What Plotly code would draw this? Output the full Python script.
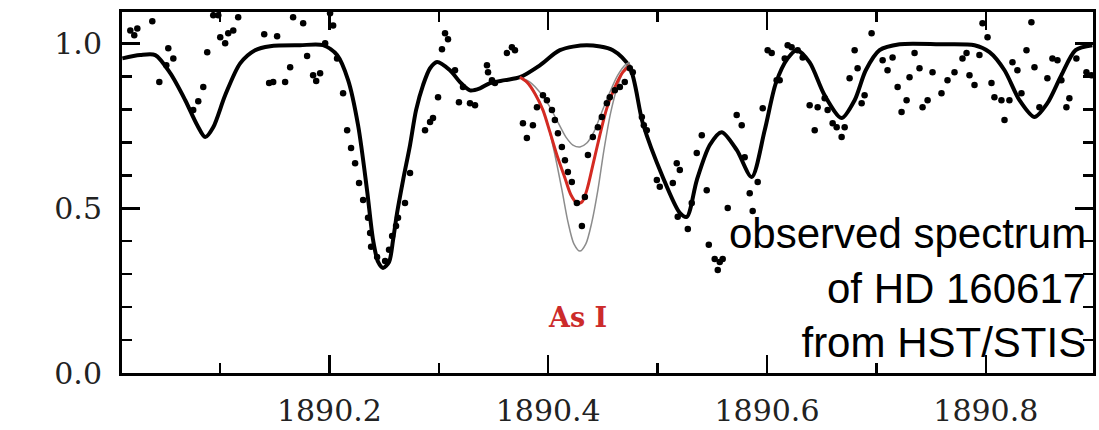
import plotly.graph_objects as go

# ---------------- data ----------------
# observed spectrum (wavelength in Angstrom, normalized flux)
obs_wave = [
    1890.0180, 1890.0216, 1890.0244, 1890.0381, 1890.0445, 1890.0509, 1890.0527, 1890.0573,
    1890.0755, 1890.0801, 1890.0847, 1890.0883, 1890.0938, 1890.0984, 1890.1002, 1890.1047,
    1890.1075, 1890.1121, 1890.1166, 1890.1404, 1890.1522, 1890.1449, 1890.1486, 1890.1595,
    1890.1641, 1890.1668, 1890.1760, 1890.1796, 1890.1851, 1890.1879, 1890.1915, 1890.1961,
    1890.2006, 1890.2034, 1890.2070, 1890.2125, 1890.2162, 1890.2198, 1890.2235, 1890.2271,
    1890.2308, 1890.2353, 1890.2372, 1890.2381, 1890.2436, 1890.2509, 1890.2545, 1890.2573,
    1890.2609, 1890.2627, 1890.2691, 1890.2737, 1890.2874, 1890.2920, 1890.2947, 1890.2993,
    1890.3029, 1890.3057, 1890.3084, 1890.3148, 1890.3184, 1890.3221, 1890.3285, 1890.3331,
    1890.3440, 1890.3450, 1890.3486, 1890.3513, 1890.3623, 1890.3668, 1890.3696, 1890.3769,
    1890.3805, 1890.3860, 1890.3897, 1890.3952, 1890.3988, 1890.4034, 1890.4061, 1890.4089,
    1890.4125, 1890.4153, 1890.4180, 1890.4216, 1890.4262, 1890.4308, 1890.4335, 1890.4363,
    1890.4408, 1890.4454, 1890.4490, 1890.4536, 1890.4563, 1890.4609, 1890.4655, 1890.4700,
    1890.4746, 1890.4773, 1890.4856, 1890.4874, 1890.4901, 1890.4993, 1890.5020, 1890.5139,
    1890.5175, 1890.5203, 1890.5184, 1890.5276, 1890.5312, 1890.5358, 1890.5404, 1890.5449,
    1890.5468, 1890.5522, 1890.5568, 1890.5595, 1890.5550, 1890.5641, 1890.5723, 1890.5769,
    1890.5796, 1890.5842, 1890.5869, 1890.5915, 1890.5961, 1890.6006, 1890.6043, 1890.6088,
    1890.6116, 1890.6162, 1890.6189, 1890.6225, 1890.6280, 1890.6326, 1890.6390, 1890.6436,
    1890.6463, 1890.6527, 1890.6554, 1890.6600, 1890.6637, 1890.6682, 1890.6710, 1890.6755,
    1890.6801, 1890.6828, 1890.6865, 1890.6892, 1890.6956, 1890.7057, 1890.7102, 1890.7148,
    1890.7194, 1890.7230, 1890.7276, 1890.7303, 1890.7349, 1890.7394, 1890.7422, 1890.7468,
    1890.7513, 1890.7595, 1890.7650, 1890.7714, 1890.7787, 1890.7824, 1890.7851, 1890.7897,
    1890.7942, 1890.7970, 1890.8016, 1890.8052, 1890.8079, 1890.8143, 1890.8171, 1890.8216,
    1890.8244, 1890.8289, 1890.8326, 1890.8372, 1890.8417, 1890.8445, 1890.8490, 1890.8563,
    1890.8609, 1890.8655, 1890.8691, 1890.8737, 1890.8764, 1890.8828, 1890.8920, 1890.8965,
]
obs_flux = [
    1.040, 1.025, 1.046, 1.068, 0.883, 0.934, 0.986, 0.955,
    0.798, 0.825, 0.868, 0.974, 1.086, 1.086, 1.019, 1.001,
    1.031, 1.040, 1.080, 1.028, 1.022, 0.880, 0.883, 0.883,
    0.928, 1.080, 1.062, 0.962, 0.904, 0.886, 0.910, 1.001,
    1.092, 1.055, 0.955, 0.849, 0.737, 0.683, 0.637, 0.577,
    0.525, 0.471, 0.425, 0.383, 0.352, 0.340, 0.374, 0.416,
    0.446, 0.471, 0.516, 0.607, 0.737, 0.762, 0.774, 0.837,
    0.983, 1.031, 1.013, 0.919, 0.822, 0.868, 0.819, 0.813,
    0.934, 0.913, 0.889, 0.880, 0.971, 0.989, 0.980, 0.758,
    0.713, 0.752, 0.807, 0.843, 0.828, 0.798, 0.768, 0.728,
    0.686, 0.646, 0.610, 0.580, 0.516, 0.446, 0.534, 0.662,
    0.716, 0.746, 0.777, 0.819, 0.837, 0.858, 0.868, 0.883,
    0.925, 0.913, 0.777, 0.752, 0.737, 0.586, 0.565, 0.577,
    0.637, 0.616, 0.474, 0.437, 0.516, 0.668, 0.722, 0.555,
    0.389, 0.346, 0.337, 0.346, 0.313, 0.501, 0.783, 0.752,
    0.655, 0.546, 0.492, 0.580, 0.804, 0.980, 0.971, 0.889,
    0.889, 0.955, 0.995, 0.989, 0.980, 0.958, 0.813, 0.737,
    0.807, 0.834, 0.798, 0.758, 0.746, 0.716, 0.746, 0.895,
    0.980, 0.925, 0.819, 0.843, 1.031, 0.949, 0.919, 0.958,
    0.868, 0.792, 0.828, 0.898, 0.971, 0.925, 0.807, 0.828,
    0.913, 0.849, 0.889, 0.913, 0.955, 0.971, 0.904, 0.874,
    0.965, 1.062, 1.019, 0.880, 0.837, 0.828, 0.768, 0.828,
    0.943, 0.919, 0.849, 0.980, 1.065, 0.928, 0.807, 0.895,
    0.955, 0.949, 0.889, 0.807, 0.834, 0.955, 0.913, 0.904,
]

# synthetic spectrum (black)
model_wave = [
    1890.0107, 1890.0271, 1890.0408, 1890.0545, 1890.0682, 1890.0792, 1890.0865, 1890.0938,
    1890.1047, 1890.1184, 1890.1321, 1890.1458, 1890.1732, 1890.1942, 1890.2070, 1890.2171,
    1890.2262, 1890.2344, 1890.2399, 1890.2445, 1890.2490, 1890.2545, 1890.2582, 1890.2618,
    1890.2673, 1890.2737, 1890.2792, 1890.2856, 1890.2920, 1890.2984, 1890.3102, 1890.3194,
    1890.3285, 1890.3376, 1890.3468, 1890.3605, 1890.3742, 1890.3924, 1890.4107, 1890.4353,
    1890.4591, 1890.4746, 1890.4865, 1890.5047, 1890.5203, 1890.5267, 1890.5358, 1890.5477,
    1890.5586, 1890.5723, 1890.5860, 1890.5979, 1890.6081, 1890.6189, 1890.6273, 1890.6390,
    1890.6527, 1890.6682, 1890.6801, 1890.6903, 1890.7029, 1890.7212, 1890.7577, 1890.7897,
    1890.8034, 1890.8171, 1890.8308, 1890.8445, 1890.8563, 1890.8691, 1890.8821, 1890.8974,
]
model_flux = [
    0.955, 0.965, 0.965, 0.910, 0.828, 0.752, 0.716, 0.746,
    0.843, 0.940, 0.980, 0.992, 0.995, 0.995, 0.965, 0.889,
    0.752, 0.555, 0.404, 0.337, 0.319, 0.337, 0.404, 0.485,
    0.585, 0.692, 0.798, 0.874, 0.925, 0.944, 0.919, 0.883,
    0.858, 0.864, 0.880, 0.889, 0.898, 0.934, 0.980, 0.995,
    0.980, 0.928, 0.758, 0.595, 0.486, 0.474, 0.585, 0.692,
    0.731, 0.677, 0.595, 0.737, 0.880, 0.955, 0.980, 0.943,
    0.843, 0.774, 0.828, 0.919, 0.980, 0.998, 0.998, 0.995,
    0.974, 0.919, 0.828, 0.777, 0.819, 0.904, 0.980, 0.995,
]

# As I fits: best (red), weaker and stronger abundances (grey)
asbest_wave = [
    1890.3742, 1890.3806, 1890.3879, 1890.3952, 1890.4016, 1890.4080, 1890.4153, 1890.4207,
    1890.4262, 1890.4308, 1890.4353, 1890.4408, 1890.4472, 1890.4536, 1890.4609, 1890.4682,
    1890.4746,
]
asbest_flux = [
    0.898, 0.883, 0.848, 0.798, 0.731, 0.661, 0.592, 0.541,
    0.516, 0.519, 0.555, 0.631, 0.722, 0.804, 0.867, 0.913,
    0.934,
]
asweak_wave = [
    1890.3742, 1890.3833, 1890.3924, 1890.4016, 1890.4089, 1890.4162, 1890.4226, 1890.4290,
    1890.4353, 1890.4417, 1890.4490, 1890.4563, 1890.4636, 1890.4709, 1890.4746,
]
asweak_flux = [
    0.898, 0.883, 0.852, 0.807, 0.761, 0.716, 0.692, 0.686,
    0.698, 0.731, 0.792, 0.852, 0.904, 0.937, 0.943,
]
asstrong_wave = [
    1890.3742, 1890.3833, 1890.3924, 1890.3998, 1890.4062, 1890.4126, 1890.4181, 1890.4235,
    1890.4290, 1890.4344, 1890.4399, 1890.4454, 1890.4509, 1890.4572, 1890.4636, 1890.4700,
    1890.4746,
]
asstrong_flux = [
    0.898, 0.873, 0.822, 0.752, 0.661, 0.555, 0.458, 0.392,
    0.370, 0.392, 0.458, 0.555, 0.676, 0.792, 0.873, 0.925,
    0.940,
]

x_major_ticks = [1890.2, 1890.4, 1890.6, 1890.8]
x_tick_labels = ["1890.2", "1890.4", "1890.6", "1890.8"]
y_major_ticks = [0.0, 0.5, 1.0]
y_tick_labels = ["0.0", "0.5", "1.0"]

# ---------------- figure ----------------
fig = go.Figure()

fig.add_trace(go.Scatter(x=model_wave, y=model_flux, mode="lines",
                         line=dict(color="black", width=4, shape="spline", smoothing=0.8),
                         hoverinfo="skip"))
fig.add_trace(go.Scatter(x=asweak_wave, y=asweak_flux, mode="lines",
                         line=dict(color="#8c8c8c", width=1.5, shape="spline", smoothing=0.8)))
fig.add_trace(go.Scatter(x=asstrong_wave, y=asstrong_flux, mode="lines",
                         line=dict(color="#8c8c8c", width=1.5, shape="spline", smoothing=0.8)))
fig.add_trace(go.Scatter(x=asbest_wave, y=asbest_flux, mode="lines",
                         line=dict(color="#d42a22", width=3, shape="spline", smoothing=0.8)))
fig.add_trace(go.Scatter(x=obs_wave, y=obs_flux, mode="markers",
                         marker=dict(color="black", size=6.5, line=dict(width=0))))

axis_common = dict(
    showline=True, linecolor="black", linewidth=3, mirror="allticks",
    ticks="inside", tickcolor="black", tickwidth=2.5,
    showgrid=False, zeroline=False, automargin=False,
    tickfont=dict(family="DejaVu Serif", size=30, color="#222222"),
)

fig.update_xaxes(
    range=[1890.0104, 1890.898], tickvals=x_major_ticks, ticktext=x_tick_labels,
    ticklen=18, ticklabelstandoff=9,
    minor=dict(dtick=0.1, tick0=1890.0, ticklen=10, tickwidth=2.5, tickcolor="black", ticks="inside"),
    **axis_common,
)
fig.update_yaxes(
    range=[0, 1.0958], tickvals=y_major_ticks, ticktext=y_tick_labels,
    ticklen=18, ticklabelstandoff=11,
    minor=dict(dtick=0.1, tick0=0.0, ticklen=10, tickwidth=2.5, tickcolor="black", ticks="inside"),
    **axis_common,
)

fig.add_annotation(xref="paper", yref="paper", x=0.9946, y=0.2345,
                   xanchor="right", yanchor="middle", align="right", showarrow=False,
                   text="observed spectrum<br>of HD 160617<br>from HST/STIS",
                   font=dict(family="Liberation Sans", size=42, color="black"))
fig.add_annotation(x=1890.427, y=0.17, xref="x", yref="y",
                   showarrow=False, text="<b>As I</b>",
                   font=dict(family="DejaVu Serif", size=27, color="#cc2b2b"))

fig.update_layout(
    width=1099, height=430,
    margin=dict(l=122, r=6, t=12, b=57),
    paper_bgcolor="white", plot_bgcolor="white",
    showlegend=False,
)

fig.write_html(
    "out.html",
    config={"displayModeBar": False, "staticPlot": True},
    post_script="document.body.style.margin='0px';document.body.style.overflow='hidden';",
)
